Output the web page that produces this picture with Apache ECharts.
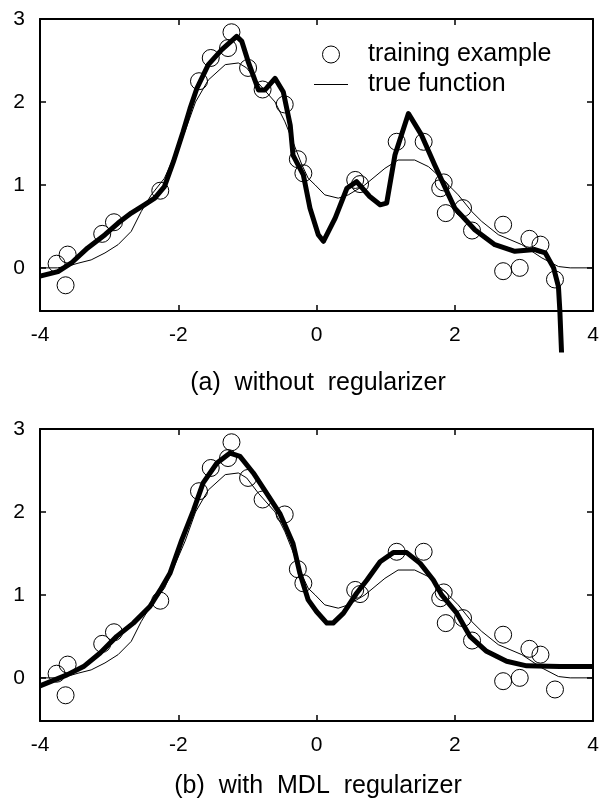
<!DOCTYPE html>
<html>
<head>
<meta charset="utf-8">
<script src="https://cdn.jsdelivr.net/npm/echarts@6/dist/echarts.min.js"></script>
<style>
  html, body { margin: 0; padding: 0; background: #fff; }
  #chart { width: 605px; height: 798px; }
</style>
</head>
<body>
<div id="chart"></div>
<script>
// training examples (same in both panels)
const trainX = [-3.76, -3.60, -3.63, -3.10, -2.93, -2.26, -1.70, -1.53, -1.28, -1.23, -0.99, -0.78, -0.46, -0.27, -0.19,
                0.56, 0.63, 1.16, 1.55, 1.84, 1.79, 1.87, 2.12, 2.25, 2.70, 3.08, 3.24, 2.70, 2.94, 3.45];
const trainY = [0.05, 0.16, -0.21, 0.41, 0.55, 0.93, 2.25, 2.53, 2.65, 2.84, 2.41, 2.15, 1.97, 1.31, 1.14,
                1.06, 1.01, 1.52, 1.52, 1.03, 0.96, 0.66, 0.72, 0.45, 0.52, 0.35, 0.28, -0.04, 0.00, -0.14];

// true function
const trueX = [-4.0, -3.75, -3.6, -3.45, -3.26, -3.06, -2.87, -2.68, -2.535, -2.39, -2.2, -2.05, -1.9, -1.75, -1.565,
               -1.32, -1.13, -1.01, -0.84, -0.6, -0.456, -0.36, -0.21, -0.12, -0.02, 0.12, 0.315, 0.46, 0.7, 0.99,
               1.18, 1.42, 1.62, 1.86, 2.05, 2.245, 2.39, 2.63, 2.97, 3.26, 3.5, 3.67, 4.0];
const trueY = [0.0, 0.0, 0.02, 0.056, 0.096, 0.18, 0.28, 0.44, 0.68, 0.88, 1.08, 1.36, 1.65, 2.0, 2.265,
               2.45, 2.47, 2.41, 2.225, 2.0, 1.76, 1.56, 1.24, 1.08, 1.0, 0.88, 0.84, 0.88, 1.0, 1.2,
               1.3, 1.3, 1.22, 1.04, 0.88, 0.68, 0.56, 0.4, 0.28, 0.12, 0.016, 0.0, 0.0];

// (a) fit without regularizer
const noRegX = [-4.0, -3.74, -3.55, -3.31, -3.06, -2.87, -2.68, -2.49, -2.34, -2.2, -2.07, -1.93, -1.83, -1.73, -1.565,
                -1.37, -1.155, -1.08, -0.99, -0.84, -0.745, -0.6, -0.48, -0.38, -0.34, -0.19, -0.094, 0.026, 0.1, 0.27,
                0.44, 0.58, 0.77, 0.92, 1.015, 1.135, 1.33, 1.52, 1.71, 1.91, 2.0, 2.29, 2.58, 2.87, 3.16,
                3.31, 3.43, 3.5, 3.52, 3.545];
const noRegY = [-0.1, -0.045, 0.056, 0.24, 0.4, 0.54, 0.66, 0.76, 0.84, 0.98, 1.28, 1.64, 1.92, 2.165, 2.45,
                2.63, 2.79, 2.73, 2.49, 2.145, 2.145, 2.285, 2.12, 1.72, 1.36, 1.12, 0.72, 0.4, 0.32, 0.6,
                0.96, 1.04, 0.86, 0.76, 0.78, 1.36, 1.86, 1.6, 1.24, 0.88, 0.72, 0.46, 0.28, 0.2, 0.22,
                0.18, 0.0, -0.225, -0.51, -1.02];

// (b) fit with MDL regularizer
const mdlX = [-4.0, -3.61, -3.37, -3.13, -2.89, -2.65, -2.41, -2.26, -2.12, -1.95, -1.78, -1.64, -1.44, -1.25, -1.107,
              -0.914, -0.72, -0.53, -0.34, -0.24, -0.12, 0.0, 0.15, 0.24, 0.39, 0.58, 0.73, 0.92, 1.11, 1.305,
              1.5, 1.69, 1.81, 2.03, 2.22, 2.46, 2.75, 3.04, 3.52, 4.0];
const mdlY = [-0.096, 0.036, 0.136, 0.3, 0.5, 0.66, 0.86, 1.06, 1.26, 1.66, 2.02, 2.35, 2.59, 2.71, 2.67,
              2.47, 2.225, 1.98, 1.62, 1.26, 0.94, 0.8, 0.66, 0.66, 0.78, 1.02, 1.18, 1.4, 1.51, 1.51,
              1.38, 1.18, 1.0, 0.78, 0.5, 0.32, 0.2, 0.145, 0.136, 0.136];

const yTicks = [0, 1, 2, 3];
const captions = ['(a)  without  regularizer', '(b)  with  MDL  regularizer'];

const font = 'Liberation Sans, Arial, Helvetica, sans-serif';

function zip(xs, ys) {
    return xs.map((x, i) => [x, ys[i]]);
}

const grids = [
    { left: 40, top: 19, width: 553, height: 292 },
    { left: 40, top: 429, width: 553, height: 292 }
];

const xAxes = [];
const yAxes = [];
grids.forEach((g, gi) => {
    ['bottom', 'top'].forEach(pos => {
        xAxes.push({
            type: 'value',
            gridIndex: gi,
            position: pos,
            min: -4,
            max: 4,
            interval: 2,
            axisLine: { show: true, onZero: false, lineStyle: { color: '#000', width: 2 } },
            axisTick: { show: true, inside: true, length: 6, lineStyle: { color: '#000', width: 1.5 } },
            axisLabel: {
                show: pos === 'bottom',
                margin: 14,
                color: '#000',
                fontSize: 21,
                fontFamily: font
            },
            splitLine: { show: false }
        });
    });
    ['left', 'right'].forEach(pos => {
        yAxes.push({
            type: 'value',
            gridIndex: gi,
            position: pos,
            min: -0.52,
            max: 3,
            axisLine: { show: true, onZero: false, lineStyle: { color: '#000', width: 2 } },
            axisTick: { show: true, inside: true, length: 6, customValues: yTicks, lineStyle: { color: '#000', width: 1.5 } },
            axisLabel: {
                show: pos === 'left',
                customValues: yTicks,
                margin: 15,
                color: '#000',
                fontSize: 21,
                fontFamily: font
            },
            splitLine: { show: false }
        });
    });
});

const fits = [zip(noRegX, noRegY), zip(mdlX, mdlY)];
const series = [];
grids.forEach((g, gi) => {
    series.push({
        name: 'true function',
        type: 'line',
        xAxisIndex: gi * 2,
        yAxisIndex: gi * 2,
        data: zip(trueX, trueY),
        symbol: 'none',
        lineStyle: { color: '#000', width: 1 },
        itemStyle: { color: '#000' },
        z: 2
    });
    series.push({
        name: 'fit ' + gi,
        type: 'line',
        xAxisIndex: gi * 2,
        yAxisIndex: gi * 2,
        data: fits[gi],
        symbol: 'none',
        clip: false,
        lineStyle: { color: '#000', width: 5, join: 'round' },
        z: 3
    });
    series.push({
        name: 'training example',
        type: 'scatter',
        xAxisIndex: gi * 2,
        yAxisIndex: gi * 2,
        data: zip(trainX, trainY),
        symbol: 'circle',
        symbolSize: 17,
        itemStyle: { color: 'rgba(0,0,0,0)', borderColor: '#000', borderWidth: 1, opacity: 1 },
        z: 4
    });
});

const option = {
    animation: false,
    backgroundColor: '#fff',
    title: captions.map((c, i) => ({
        text: c,
        left: 318,
        top: i === 0 ? 371 : 774,
        textAlign: 'center',
        padding: 0,
        textStyle: { color: '#000', fontSize: 25, fontWeight: 'normal', fontFamily: font }
    })),
    legend: {
        data: [
            { name: 'training example', icon: 'circle', itemStyle: { color: 'rgba(0,0,0,0)', borderColor: '#000', borderWidth: 1 } },
            { name: 'true function', icon: 'path://M0,0 L34,0 L34,1 L0,1 Z',
              itemStyle: { color: '#000', borderWidth: 0 }, lineStyle: { width: 0 } }
        ],
        orient: 'vertical',
        left: 314,
        top: 42,
        padding: 0,
        itemWidth: 34,
        itemHeight: 17,
        itemGap: 5,
        selectedMode: false,
        textStyle: { color: '#000', fontSize: 25, fontFamily: font, padding: [0, 0, 0, 15] }
    },
    grid: grids,
    xAxis: xAxes,
    yAxis: yAxes,
    series: series
};

const myChart = echarts.init(document.getElementById('chart'));
myChart.setOption(option);
</script>
</body>
</html>
